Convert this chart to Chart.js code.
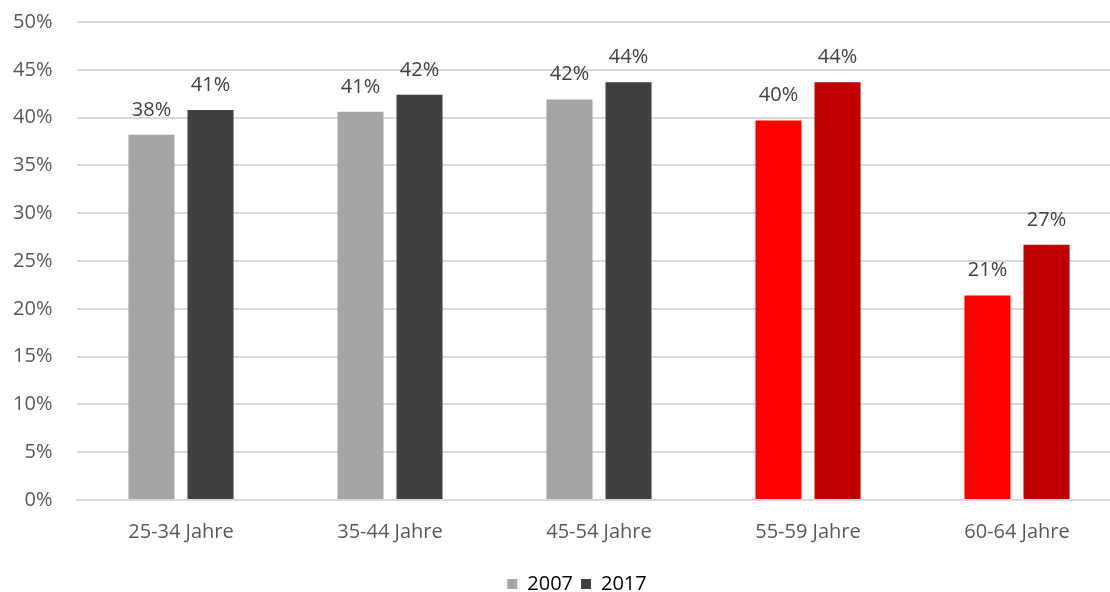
<!DOCTYPE html>
<html>
<head>
<meta charset="utf-8">
<script src="https://cdn.jsdelivr.net/npm/chart.js@4/dist/chart.umd.min.js"></script>
<style>
  html, body { margin: 0; padding: 0; background: #fff; overflow: hidden; }
</style>
</head>
<body>
<canvas id="age_chart" width="1154" height="604"></canvas>
<script>
// Altersgruppen und Anteile (in %)
var labels = ['25-34 Jahre', '35-44 Jahre', '45-54 Jahre', '55-59 Jahre', '60-64 Jahre']
var values2007 = [38.2, 40.6, 41.9, 39.7, 21.4]
var values2017 = [40.8, 42.4, 43.7, 43.7, 26.7]
var yTicks = [0, 5, 10, 15, 20, 25, 30, 35, 40, 45, 50]

// the two older groups are highlighted in red
var colors2007 = ['#A5A5A5', '#A5A5A5', '#A5A5A5', '#FF0000', '#FF0000']
var colors2017 = ['#404040', '#404040', '#404040', '#C00000', '#C00000']

const FONT = "'Open Sans', 'Noto Sans', sans-serif"
const FSIZE = 20

// value labels above every bar
const barLabels = {
  id: 'barLabels',
  afterDatasetsDraw(chart) {
    const ctx = chart.ctx
    ctx.save()
    ctx.font = FSIZE + 'px ' + FONT
    ctx.fillStyle = '#404040'
    ctx.textAlign = 'center'
    ctx.textBaseline = 'alphabetic'
    chart.data.datasets.forEach((ds, i) => {
      chart.getDatasetMeta(i).data.forEach((bar, j) => {
        ctx.fillText(Math.round(ds.data[j]) + '%', bar.x, bar.y - 19)
      })
    })
    ctx.restore()
  }
}

var ctx = document.getElementById('age_chart').getContext('2d')
new Chart(ctx, {
  type: 'bar',
  data: {
    labels: labels,
    datasets: [
      {
        label: '2007',
        data: values2007,
        backgroundColor: colors2007,
        categoryPercentage: 0.565,
        barPercentage: 0.78
      },
      {
        label: '2017',
        data: values2017,
        backgroundColor: colors2017,
        categoryPercentage: 0.565,
        barPercentage: 0.78
      }
    ]
  },
  options: {
    responsive: false,
    animation: false,
    layout: { padding: { top: 22, right: 0, left: 0, bottom: 0 } },
    plugins: {
      tooltip: { enabled: false },
      legend: {
        position: 'bottom',
        labels: {
          font: { family: FONT, size: FSIZE },
          color: '#595959',
          boxWidth: 10,
          boxHeight: 10,
          padding: 8,
          generateLabels: (chart) => [
            { text: '2007', fillStyle: '#A5A5A5', strokeStyle: '#A5A5A5', lineWidth: 0, datasetIndex: 0 },
            { text: '2017', fillStyle: '#404040', strokeStyle: '#404040', lineWidth: 0, datasetIndex: 1 }
          ]
        }
      }
    },
    scales: {
      x: {
        grid: { display: false, drawTicks: false },
        border: { display: true, color: '#D9D9D9', width: 2 },
        ticks: {
          font: { family: FONT, size: FSIZE },
          color: '#595959',
          padding: 20
        },
        afterFit: (scale) => { scale.height = 66 }
      },
      y: {
        min: 0,
        max: 50,
        afterBuildTicks: (scale) => { scale.ticks = yTicks.map(v => ({ value: v })) },
        grid: { color: '#D9D9D9', lineWidth: 2, drawTicks: false },
        border: { display: false },
        ticks: {
          font: { family: FONT, size: FSIZE },
          color: '#595959',
          padding: 24,
          callback: (v) => v + '%'
        },
        afterFit: (scale) => {
          scale.width = 76.5
          scale.paddingTop = 0
          scale.paddingBottom = 0
        }
      },
      // empty strip on the right so the legend stays centred on the canvas
      yRight: {
        type: 'linear',
        position: 'right',
        grid: { display: false, drawTicks: false },
        border: { display: false },
        ticks: { display: false },
        afterFit: (scale) => {
          scale.width = 32.5
          scale.paddingTop = 0
          scale.paddingBottom = 0
        }
      }
    }
  },
  plugins: [barLabels]
})
</script>
</body>
</html>
